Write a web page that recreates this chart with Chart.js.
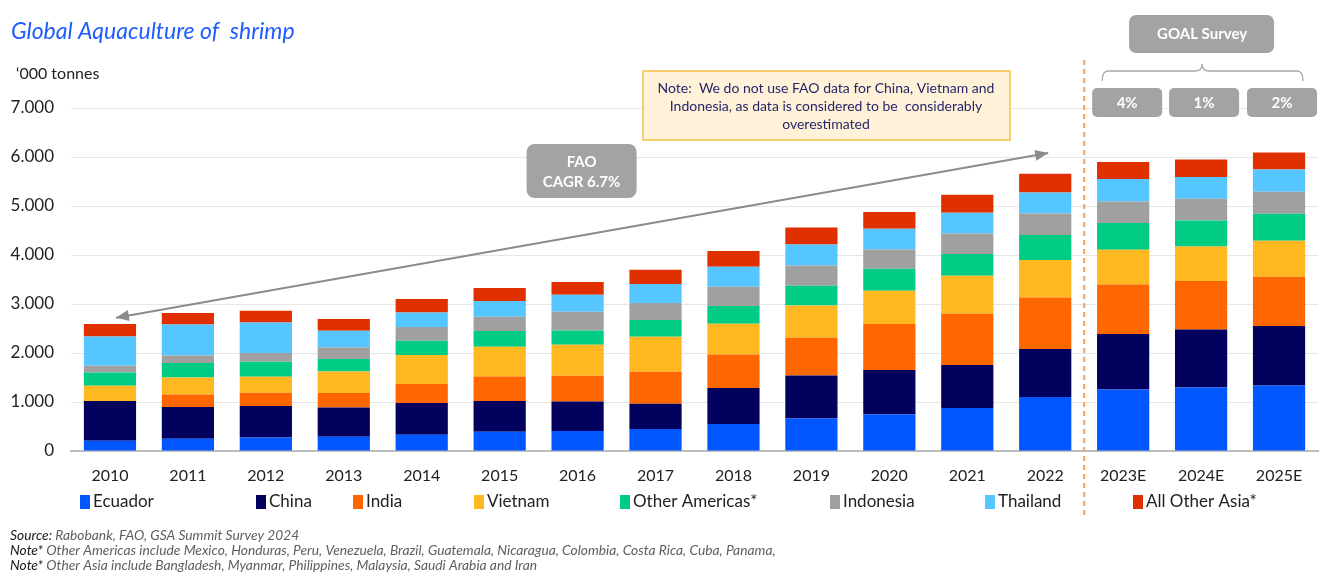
<!DOCTYPE html>
<html lang="en">
<head>
<meta charset="UTF-8">
<title>Global Aquaculture of shrimp</title>
<script src="https://cdn.jsdelivr.net/npm/chart.js@4"></script>
<style>
  html, body { margin: 0; padding: 0; background: #fff; }
  #wrap { width: 1340px; height: 574px; }
</style>
</head>
<body>
<div id="wrap"><canvas id="shrimpChart" width="1340" height="574"></canvas></div>
<script>
// '000 tonnes
const years = ['2010', '2011', '2012', '2013', '2014', '2015', '2016', '2017', '2018', '2019', '2020', '2021', '2022', '2023E', '2024E', '2025E'];
const ecuador       = [210, 251, 278, 292, 333, 394, 408, 449, 551, 665, 747, 878, 1102, 1257, 1298, 1339];
const china         = [810, 647, 640, 598, 647, 626, 604, 516, 735, 878, 906, 877, 980, 1131, 1184, 1212];
const india         = [0, 257, 272, 294, 387, 502, 525, 653, 685, 769, 939, 1047, 1053, 1012, 987, 1006];
const vietnam       = [313, 347, 326, 440, 592, 607, 632, 715, 627, 659, 679, 776, 763, 708, 707, 735];
const otherAmericas = [271, 294, 306, 254, 292, 320, 292, 340, 361, 402, 449, 442, 510, 545, 530, 551];
const indonesia     = [137, 155, 178, 236, 280, 292, 382, 347, 394, 415, 394, 421, 441, 441, 443, 449];
const thailand      = [598, 633, 624, 341, 298, 320, 347, 388, 408, 428, 423, 422, 429, 457, 443, 455];
const otherAsia     = [253, 232, 239, 239, 273, 266, 259, 292, 321, 347, 341, 368, 381, 347, 359, 347];
const goalGrowth    = ['4%', '1%', '2%'];

const FONT = 'Lato, "Open Sans", sans-serif';

function dotThousands(v) {
    return String(v).replace(/\B(?=(\d{3})+(?!\d))/g, '.');
}

function roundRect(ctx, x, y, w, h, r) {
    ctx.beginPath();
    ctx.moveTo(x + r, y);
    ctx.arcTo(x + w, y, x + w, y + h, r);
    ctx.arcTo(x + w, y + h, x, y + h, r);
    ctx.arcTo(x, y + h, x, y, r);
    ctx.arcTo(x, y, x + w, y, r);
    ctx.closePath();
}

function arrowHead(ctx, x1, y1, x2, y2) {
    // head at (x2, y2)
    const a = Math.atan2(y2 - y1, x2 - x1);
    const len = 13, half = 5.5;
    ctx.beginPath();
    ctx.moveTo(x2, y2);
    ctx.lineTo(x2 - len * Math.cos(a) + half * Math.sin(a), y2 - len * Math.sin(a) - half * Math.cos(a));
    ctx.lineTo(x2 - len * Math.cos(a) - half * Math.sin(a), y2 - len * Math.sin(a) + half * Math.cos(a));
    ctx.closePath();
    ctx.fill();
}

// legend box x positions as laid out in the source slide
const legendX = [80, 256, 353, 474, 620, 830, 985, 1133];

const annotations = {
    id: 'annotations',
    afterDraw(chart) {
        const ctx = chart.ctx;
        const xs = chart.scales.x, ys = chart.scales.y;
        ctx.save();

        // title and unit
        ctx.fillStyle = '#1f5cff';
        ctx.font = 'italic 23px ' + FONT;
        ctx.textBaseline = 'middle';
        ctx.textAlign = 'left';
        ctx.fillText('Global Aquaculture of  shrimp', 11, 32);
        ctx.fillStyle = '#222';
        ctx.font = '16px ' + FONT;
        ctx.fillText('\u2018000 tonnes', 16, 74);

        // forecast divider
        const divX = (xs.getPixelForValue(12) + xs.getPixelForValue(13)) / 2;
        ctx.strokeStyle = '#f5a25d';
        ctx.lineWidth = 2;
        ctx.setLineDash([5, 4]);
        ctx.beginPath();
        ctx.moveTo(divX, 60);
        ctx.lineTo(divX, 516);
        ctx.stroke();
        ctx.setLineDash([]);

        // FAO CAGR arrow
        const ax1 = xs.getPixelForValue(0) + 6, ay1 = ys.getPixelForValue(2720);
        const ax2 = xs.getPixelForValue(12) + 3, ay2 = ys.getPixelForValue(6080);
        ctx.strokeStyle = '#8c8c8c';
        ctx.fillStyle = '#8c8c8c';
        ctx.lineWidth = 2;
        ctx.beginPath();
        ctx.moveTo(ax1, ay1);
        ctx.lineTo(ax2, ay2);
        ctx.stroke();
        arrowHead(ctx, ax2, ay2, ax1, ay1);
        arrowHead(ctx, ax1, ay1, ax2, ay2);

        // FAO box
        const faoX = xs.getPixelForValue(6) + 4, faoY = 171;
        ctx.fillStyle = '#a3a3a3';
        roundRect(ctx, faoX - 55, faoY - 27, 110, 54, 8);
        ctx.fill();
        ctx.fillStyle = '#fff';
        ctx.font = 'bold 15px ' + FONT;
        ctx.textAlign = 'center';
        ctx.fillText('FAO', faoX, faoY - 9);
        ctx.fillText('CAGR 6.7%', faoX, faoY + 11);

        // note box
        ctx.fillStyle = '#fff2d8';
        ctx.strokeStyle = '#f6c047';
        ctx.lineWidth = 1.5;
        ctx.fillRect(643, 71, 367, 69);
        ctx.strokeRect(643, 71, 367, 69);
        ctx.fillStyle = '#26266a';
        ctx.font = '14px ' + FONT;
        ctx.fillText('Note:  We do not use FAO data for China, Vietnam and', 826, 88);
        ctx.fillText('Indonesia, as data is considered to be  considerably', 826, 106);
        ctx.fillText('overestimated', 826, 124);

        // GOAL survey box with bracket and growth rates
        const g0 = xs.getPixelForValue(13), g1 = xs.getPixelForValue(14), g2 = xs.getPixelForValue(15);
        ctx.fillStyle = '#a3a3a3';
        roundRect(ctx, g1 - 72, 15, 145, 38, 7);
        ctx.fill();
        ctx.fillStyle = '#fff';
        ctx.font = 'bold 15px ' + FONT;
        ctx.fillText('GOAL Survey', g1 + 1, 34);

        ctx.strokeStyle = '#a8a8a8';
        ctx.lineWidth = 1.3;
        ctx.beginPath();
        ctx.moveTo(g0 - 21, 81);
        ctx.quadraticCurveTo(g0 - 21, 71, g0 - 15, 71);
        ctx.lineTo(g1 - 6, 71);
        ctx.quadraticCurveTo(g1 + 1, 71, g1 + 1, 64);
        ctx.quadraticCurveTo(g1 + 1, 71, g1 + 8, 71);
        ctx.lineTo(g2 + 18, 71);
        ctx.quadraticCurveTo(g2 + 24, 71, g2 + 24, 81);
        ctx.stroke();

        [g0 + 4, g1 + 3, g2 + 3].forEach((cx, i) => {
            ctx.fillStyle = '#a3a3a3';
            roundRect(ctx, cx - 35, 88, 70, 29, 5);
            ctx.fill();
            ctx.fillStyle = '#fff';
            ctx.fillText(goalGrowth[i], cx, 103);
        });

        // legend, from the chart's own datasets
        ctx.textAlign = 'left';
        ctx.font = '17px ' + FONT;
        chart.data.datasets.forEach((ds, i) => {
            ctx.fillStyle = ds.backgroundColor;
            ctx.fillRect(legendX[i], 495, 10, 14);
            ctx.fillStyle = '#222';
            ctx.fillText(ds.label, legendX[i] + 13, 502);
        });

        // footnotes
        const notes = [
            ['Source:', ' Rabobank, FAO, GSA Summit Survey 2024'],
            ['Note*', ' Other Americas include Mexico, Honduras, Peru, Venezuela, Brazil, Guatemala, Nicaragua, Colombia, Costa Rica, Cuba, Panama,'],
            ['Note*', ' Other Asia include Bangladesh, Myanmar, Philippines, Malaysia, Saudi Arabia and Iran']
        ];
        notes.forEach((n, i) => {
            const y = 536 + i * 15;
            ctx.font = 'italic 13.8px ' + FONT;
            ctx.fillStyle = '#1a1a1a';
            ctx.fillText(n[0], 10, y);
            const w = ctx.measureText(n[0]).width;
            ctx.fillStyle = '#5e5e5e';
            ctx.fillText(n[1], 10 + w, y);
        });
        ctx.restore();
    }
};

const colors = ['#0057ff', '#02025e', '#ff6600', '#ffb820', '#00cc84', '#a0a0a0', '#55c6ff', '#e03000'];
const names = ['Ecuador', 'China', 'India', 'Vietnam', 'Other Americas*', 'Indonesia', 'Thailand', 'All Other Asia*'];
const series = [ecuador, china, india, vietnam, otherAmericas, indonesia, thailand, otherAsia];

new Chart(document.getElementById('shrimpChart'), {
    type: 'bar',
    data: {
        labels: years,
        datasets: series.map((d, i) => ({
            label: names[i],
            data: d,
            backgroundColor: colors[i],
            borderWidth: 0,
            barPercentage: 0.67,
            categoryPercentage: 1
        }))
    },
    options: {
        responsive: false,
        animation: false,
        layout: { padding: { top: 108, right: 22, bottom: 79, left: 0 } },
        plugins: {
            legend: { display: false },
            tooltip: { enabled: false }
        },
        scales: {
            x: {
                stacked: true,
                grid: { display: false },
                border: { display: true, color: '#bdbdbd', width: 2 },
                ticks: { color: '#222', font: { family: FONT, size: 16 }, padding: 7 },
                afterFit(scale) { scale.height = 44; }
            },
            y: {
                stacked: true,
                min: 0,
                max: 7000,
                grid: { color: '#e6e6e6', drawTicks: false },
                border: { display: false },
                ticks: {
                    stepSize: 1000,
                    padding: 17,
                    color: '#222',
                    font: { family: FONT, size: 17 },
                    callback: v => dotThousands(v)
                },
                afterFit(scale) { scale.width = 71; }
            }
        }
    },
    plugins: [annotations]
});
</script>
</body>
</html>
